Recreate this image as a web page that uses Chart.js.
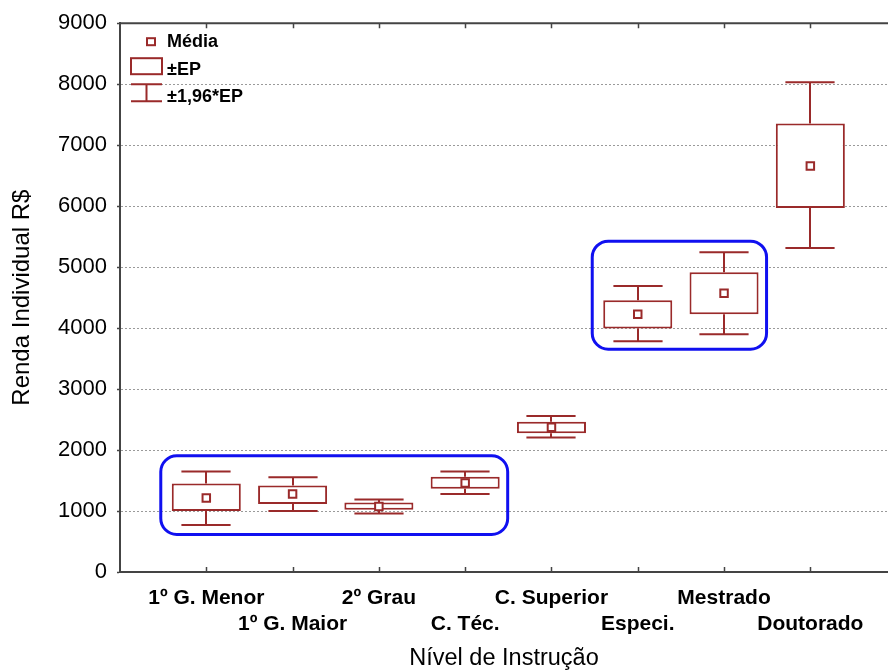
<!DOCTYPE html>
<html lang="pt">
<head>
<meta charset="utf-8">
<title>Renda Individual por Nível de Instrução</title>
<script src="https://cdn.jsdelivr.net/npm/chart.js@4.4.1/dist/chart.umd.min.js"></script>
<style>
  html, body { margin: 0; padding: 0; background: #fff; overflow: hidden; }
  #wrap { width: 888px; height: 670px; position: relative; }
</style>
</head>
<body>
<div id="wrap"><canvas id="grafico"></canvas></div>
<script>
// Níveis de instrução (eixo X)
const niveis = ['1º G. Menor', '1º G. Maior', '2º Grau', 'C. Téc.', 'C. Superior', 'Especi.', 'Mestrado', 'Doutorado'];

// Média da renda individual (R$)
const media = [1215, 1280, 1075, 1460, 2375, 4225, 4570, 6660];
// Limites da caixa: média ± EP
const epBaixo = [1000, 1115, 1020, 1365, 2275, 3995, 4225, 5970];
const epAlto = [1450, 1420, 1140, 1560, 2465, 4455, 4915, 7355];
// Limites dos bigodes: média ± 1,96*EP
const icBaixo = [770, 1000, 960, 1280, 2205, 3785, 3900, 5315];
const icAlto = [1650, 1555, 1190, 1650, 2560, 4690, 5245, 8030];

// Grupos destacados em azul (índices dos níveis e faixa de renda)
const grupoInicio = [0, 5];
const grupoFim = [3, 6];
const grupoMin = [615, 3655];
const grupoMax = [1905, 5425];

// Ticks do eixo Y e itens da legenda
const ticksY = [0, 1000, 2000, 3000, 4000, 5000, 6000, 7000, 8000, 9000];
const itensLegenda = ['Média', '±EP', '±1,96*EP'];

const VERMELHO = '#9a2a2a';
const AZUL = '#1010f0';
const FONTE = 'Arial, "Liberation Sans", sans-serif';

// bigodes (±1,96*EP) desenhados antes das caixas
const bigodes = {
  id: 'bigodes',
  beforeDatasetsDraw(chart) {
    const { ctx, scales: { x, y } } = chart;
    const meia = (x.getPixelForValue(1) - x.getPixelForValue(0)) * 0.285;
    ctx.save();
    ctx.strokeStyle = VERMELHO;
    ctx.lineWidth = 2;
    niveis.forEach((_, i) => {
      const px = Math.round(x.getPixelForValue(i + 1));
      const pAlto = y.getPixelForValue(icAlto[i]);
      const pBaixo = y.getPixelForValue(icBaixo[i]);
      ctx.beginPath();
      ctx.moveTo(px, y.getPixelForValue(epAlto[i]));
      ctx.lineTo(px, pAlto);
      ctx.moveTo(px - meia, pAlto);
      ctx.lineTo(px + meia, pAlto);
      ctx.moveTo(px, y.getPixelForValue(epBaixo[i]));
      ctx.lineTo(px, pBaixo);
      ctx.moveTo(px - meia, pBaixo);
      ctx.lineTo(px + meia, pBaixo);
      ctx.stroke();
    });
    ctx.restore();
  }
};

// moldura superior, ticks internos do eixo X, grupos em azul e legenda
const extras = {
  id: 'extras',
  afterDatasetsDraw(chart) {
    const { ctx, chartArea: a, scales: { x, y } } = chart;
    ctx.save();

    // borda superior e ticks para dentro
    ctx.strokeStyle = '#444';
    ctx.lineWidth = 2;
    ctx.beginPath();
    ctx.moveTo(a.left - 1, a.top);
    ctx.lineTo(chart.width, a.top);
    ctx.stroke();
    ctx.lineWidth = 1.5;
    ctx.beginPath();
    niveis.forEach((_, i) => {
      const px = Math.round(x.getPixelForValue(i + 1)) + 0.5;
      ctx.moveTo(px, a.top);
      ctx.lineTo(px, a.top + 5);
      ctx.moveTo(px, a.bottom);
      ctx.lineTo(px, a.bottom - 5);
    });
    ctx.stroke();

    // retângulos arredondados em volta dos grupos
    const meiaCaixa = (x.getPixelForValue(1) - x.getPixelForValue(0)) * 0.4;
    ctx.strokeStyle = AZUL;
    ctx.lineWidth = 3;
    grupoInicio.forEach((ini, g) => {
      const x0 = x.getPixelForValue(ini + 1) - meiaCaixa - 11;
      const x1 = x.getPixelForValue(grupoFim[g] + 1) + meiaCaixa + 8;
      const y0 = y.getPixelForValue(grupoMax[g]);
      const y1 = y.getPixelForValue(grupoMin[g]);
      ctx.beginPath();
      ctx.roundRect(x0, y0, x1 - x0, y1 - y0, 16);
      ctx.stroke();
    });

    // legenda
    const lx = a.left + 11;
    ctx.strokeStyle = VERMELHO;
    ctx.lineWidth = 2;
    ctx.fillStyle = '#fff';
    ctx.fillRect(lx + 16, a.top + 15, 8, 7);
    ctx.strokeRect(lx + 16, a.top + 15, 8, 7);
    ctx.strokeRect(lx, a.top + 35, 31, 16);
    ctx.beginPath();
    ctx.moveTo(lx, a.top + 61);
    ctx.lineTo(lx + 31, a.top + 61);
    ctx.moveTo(lx + 15.5, a.top + 61);
    ctx.lineTo(lx + 15.5, a.top + 78);
    ctx.moveTo(lx, a.top + 78);
    ctx.lineTo(lx + 31, a.top + 78);
    ctx.stroke();
    ctx.fillStyle = '#000';
    ctx.font = 'bold 18px ' + FONTE;
    ctx.textBaseline = 'middle';
    const linhasY = [19, 47, 74];
    itensLegenda.forEach((t, i) => ctx.fillText(t, lx + 36, a.top + linhasY[i]));

    ctx.restore();
  }
};

new Chart(document.getElementById('grafico'), {
  type: 'bar',
  data: {
    datasets: [
      {
        type: 'scatter',
        label: 'Média',
        data: media.map((v, i) => ({ x: i + 1, y: v })),
        pointStyle: 'rect',
        pointRadius: 5.3,
        pointBackgroundColor: '#fff',
        pointBorderColor: VERMELHO,
        pointBorderWidth: 2,
        order: 0
      },
      {
        label: '±EP',
        data: epBaixo.map((v, i) => ({ x: i + 1, y: [v, epAlto[i]] })),
        backgroundColor: '#fff',
        borderColor: VERMELHO,
        borderWidth: 2,
        borderSkipped: false,
        barPercentage: 0.8,
        categoryPercentage: 1,
        order: 1
      }
    ]
  },
  options: {
    responsive: true,
    maintainAspectRatio: false,
    animation: false,
    layout: { autoPadding: false, padding: { top: 21, right: 0, left: 0, bottom: 0 } },
    plugins: {
      legend: { display: false },
      tooltip: { enabled: false }
    },
    scales: {
      x: {
        type: 'linear',
        offset: false,
        min: 0,
        max: 8.9,
        afterBuildTicks(scale) {
          scale.ticks = niveis.map((_, i) => ({ value: i + 1 }));
        },
        afterFit(scale) {
          scale.height = 98;
          scale.paddingLeft = 0;
          scale.paddingRight = 0;
        },
        ticks: {
          autoSkip: false,
          maxRotation: 0,
          padding: 6,
          color: '#000',
          font: { family: FONTE, size: 21, weight: 'bold', lineHeight: 1.2 },
          // rótulos alternados em duas linhas
          callback: (v, i) => (i % 2 === 1 ? ['', niveis[v - 1]] : niveis[v - 1])
        },
        grid: { display: false, offset: false },
        border: { display: true, color: '#444', width: 2 },
        title: {
          display: true,
          text: 'Nível de Instrução',
          color: '#000',
          font: { family: FONTE, size: 23.5, lineHeight: 1 },
          padding: { top: 0, bottom: 0 }
        }
      },
      y: {
        min: 0,
        max: 9000,
        afterBuildTicks(scale) {
          scale.ticks = ticksY.map(v => ({ value: v }));
        },
        afterFit(scale) { scale.width = 120; },
        ticks: {
          padding: 10,
          color: '#000',
          font: { family: FONTE, size: 22 },
          callback: v => String(v)
        },
        grid: {
          color: '#9a9a9a',
          lineWidth: 1,
          tickLength: 3,
          tickColor: '#444',
          tickWidth: 1.5,
          tickBorderDash: []
        },
        border: { display: true, color: '#444', width: 2, dash: [2, 2] },
        title: {
          display: true,
          text: 'Renda Individual R$',
          color: '#000',
          font: { family: FONTE, size: 24, lineHeight: 1 },
          padding: { top: 10, bottom: 0 }
        }
      }
    }
  },
  plugins: [bigodes, extras]
});
</script>
</body>
</html>
